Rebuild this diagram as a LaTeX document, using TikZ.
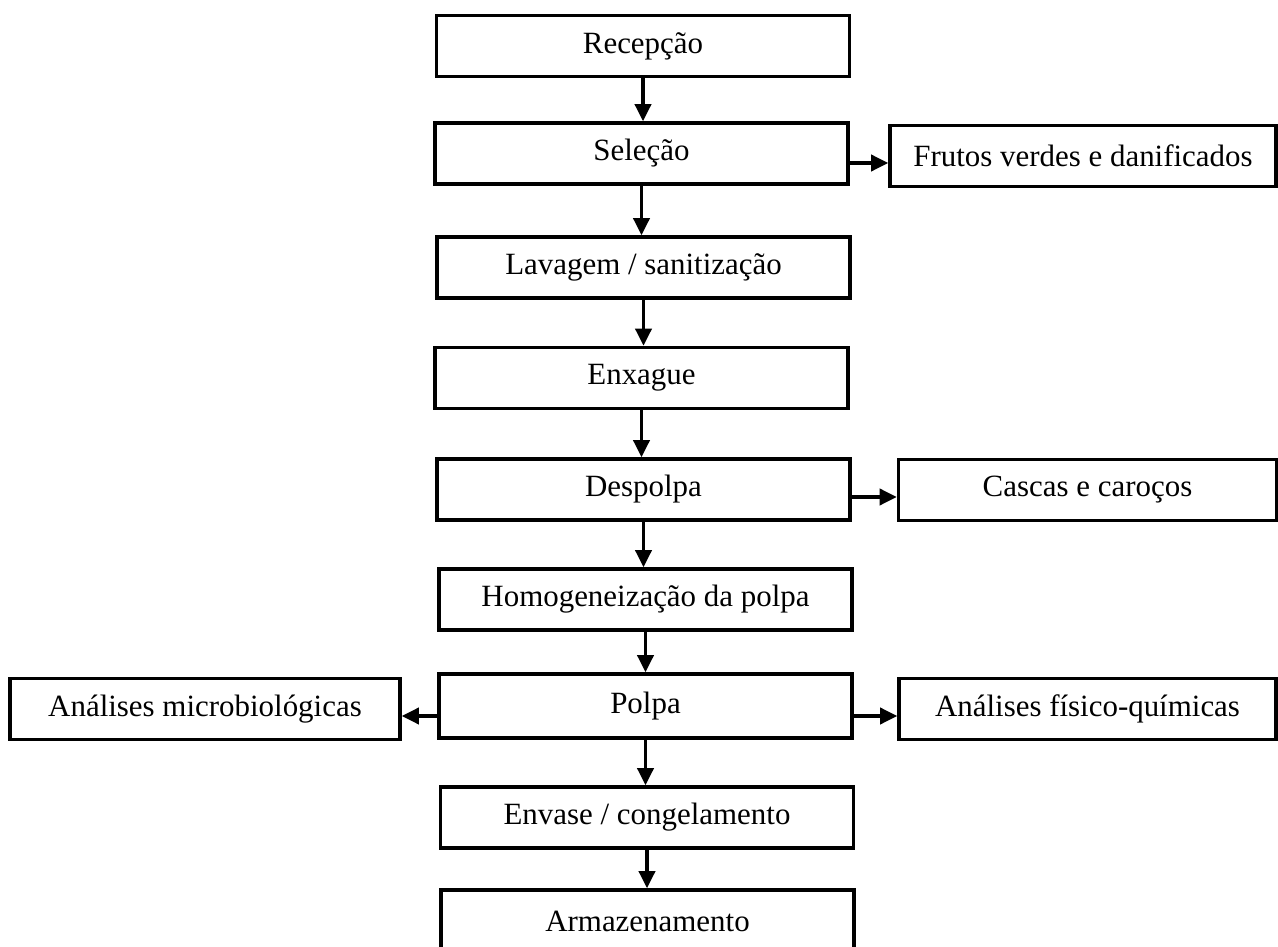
\documentclass[tikz,border=0pt]{standalone}
\usepackage{fontspec}
\setmainfont{Liberation Serif}
\usetikzlibrary{arrows.meta}

\begin{document}
\begin{tikzpicture}[
    etapa/.style={draw, line width=2pt, minimum width=8.26cm, minimum height=1.22cm,
        font=\fontsize{17.6}{21}\selectfont},
    seta/.style={line width=2pt, -{Triangle[length=0.34cm, width=0.32cm]}}
]
    \useasboundingbox (0,0) rectangle (25.56,-18.94);
    % fluxo principal
    \node[etapa] (rec) at (12.86,-0.92) {Recepção};
    \node[etapa] (sel) at (12.83,-3.07) {Seleção};
    \node[etapa] (lav) at (12.87,-5.35) {Lavagem / sanitização};
    \node[etapa] (enx) at (12.83,-7.56) {Enxague};
    \node[etapa] (desp) at (12.87,-9.79) {Despolpa};
    \node[etapa] (homog) at (12.91,-11.99) {Homogeneização da polpa};
    \node[etapa, minimum height=1.28cm] (polpa) at (12.91,-14.12) {Polpa};
    \node[etapa] (envase) at (12.94,-16.35) {Envase / congelamento};
    \node[etapa, minimum height=1.24cm] (armaz) at (12.95,-18.42) {Armazenamento};
    % saidas laterais
    \node[etapa, minimum width=7.72cm] (frutos) at (21.66,-3.12) {Frutos verdes e danificados};
    \node[etapa, minimum width=7.56cm] (cascas) at (21.75,-9.8) {Cascas e caroços};
    \node[etapa, minimum width=7.54cm] (fisqui) at (21.75,-14.18) {Análises físico-químicas};
    \node[etapa, minimum width=7.8cm] (micro) at (4.1,-14.18) {Análises microbiológicas};

    \foreach \a/\b in {rec/sel, sel/lav, lav/enx, enx/desp, desp/homog, homog/polpa, polpa/envase, envase/armaz}
        \draw[seta] (\a.south) -- (\a.south |- \b.north);

    \draw[seta] ([yshift=-0.19cm]sel.east) -- ([yshift=-0.19cm]sel.east -| frutos.west);
    \draw[seta] ([yshift=-0.15cm]desp.east) -- ([yshift=-0.15cm]desp.east -| cascas.west);
    \draw[seta] ([yshift=-0.2cm]polpa.east) -- ([yshift=-0.2cm]polpa.east -| fisqui.west);
    \draw[seta] ([yshift=-0.2cm]polpa.west) -- ([yshift=-0.2cm]polpa.west -| micro.east);
\end{tikzpicture}
\end{document}
